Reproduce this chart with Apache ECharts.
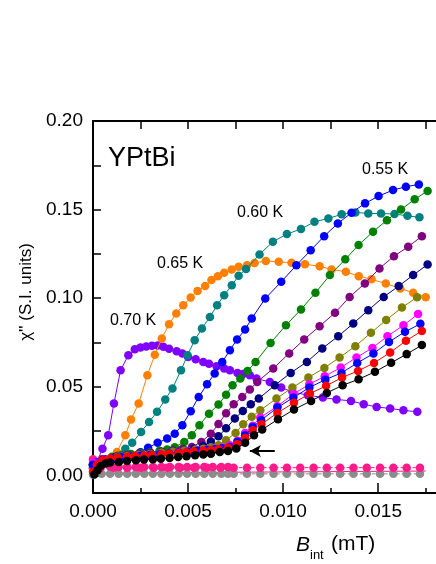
<!DOCTYPE html>
<html>
<head>
<meta charset="utf-8">
<script src="https://cdn.jsdelivr.net/npm/echarts@6/dist/echarts.min.js"></script>
<style>
html,body{margin:0;padding:0;background:#fff;overflow:hidden;width:436px;height:564px;}
#c{width:500px;height:564px;}
</style>
</head>
<body>
<div id="c"></div>
<script>
// ---- data (x in mT, y in S.I. units) ----
const xTicks = [0, 0.005, 0.010, 0.015, 0.020];
const yTicks = [0.00, 0.05, 0.10, 0.15, 0.20];
const yMinorTicks = [0.025, 0.075, 0.125, 0.175];
const tempLabels = ['0.55 K', '0.60 K', '0.65 K', '0.70 K'];

const s070 = [[0,0.004],[0.0002,0.0075],[0.0005,0.015],[0.0008,0.0226],[0.0011,0.0405],[0.00145,0.0593],[0.00186,0.0678],[0.0022,0.0712],[0.0025,0.0721],[0.0028,0.0727],[0.0031,0.0731],[0.0034,0.0733],[0.0037,0.0726],[0.004,0.0714],[0.0044,0.070],[0.0047,0.0687],[0.005,0.0668],[0.0054,0.0655],[0.0058,0.064],[0.0061,0.063],[0.0065,0.0616],[0.0069,0.0603],[0.0072,0.0593],[0.0076,0.0578],[0.0079,0.0572],[0.00825,0.0565],[0.0086,0.0546],[0.0093,0.0527],[0.0099,0.0495],[0.01049,0.0471],[0.0113,0.0452],[0.01209,0.0439],[0.01281,0.0428],[0.01357,0.042],[0.01424,0.0401],[0.01492,0.0386],[0.01563,0.0377],[0.01633,0.0367],[0.01706,0.0358]];

const s065 = [[0,0.004],[0.0004,0.006],[0.0008,0.0085],[0.00126,0.0132],[0.0017,0.0226],[0.002,0.0315],[0.0024,0.0405],[0.00286,0.0565],[0.00325,0.068],[0.00362,0.0772],[0.004,0.0853],[0.00438,0.0913],[0.00475,0.096],[0.00514,0.1004],[0.0055,0.1041],[0.0059,0.1068],[0.00623,0.1102],[0.00657,0.1124],[0.0069,0.1143],[0.0073,0.1162],[0.00766,0.1177],[0.0081,0.1186],[0.0085,0.1198],[0.00909,0.121],[0.00977,0.1205],[0.01044,0.12],[0.01115,0.1192],[0.01192,0.118],[0.01255,0.1162],[0.0133,0.1149],[0.01398,0.1124],[0.01465,0.1106],[0.0154,0.1083],[0.01616,0.1055],[0.01684,0.103],[0.0175,0.1005]];

const s060 = [[0,0.005],[0.0004,0.007],[0.0008,0.008],[0.0013,0.011],[0.0017,0.015],[0.00206,0.0183],[0.00253,0.0245],[0.00295,0.0301],[0.00337,0.0358],[0.0038,0.0428],[0.00418,0.049],[0.00463,0.0593],[0.00497,0.0678],[0.00535,0.0763],[0.00573,0.0829],[0.00615,0.0894],[0.00653,0.096],[0.0069,0.1017],[0.0073,0.1073],[0.00766,0.1126],[0.00805,0.1164],[0.00876,0.1247],[0.00946,0.1318],[0.0102,0.1362],[0.01094,0.139],[0.01165,0.1431],[0.01238,0.145],[0.01308,0.1473],[0.0138,0.1484],[0.01448,0.1478],[0.01515,0.1478],[0.01586,0.1475],[0.01654,0.1465],[0.01717,0.1456]];

const s055 = [[0,0.006],[0.0004,0.007],[0.0008,0.008],[0.0012,0.009],[0.0016,0.010],[0.002,0.011],[0.0025,0.013],[0.0029,0.0156],[0.0034,0.0183],[0.0039,0.0207],[0.0043,0.0235],[0.0047,0.0283],[0.00514,0.0362],[0.00556,0.0442],[0.006,0.0514],[0.0064,0.0575],[0.0068,0.064],[0.0072,0.0706],[0.00758,0.0767],[0.008,0.0823],[0.00835,0.0885],[0.00906,0.0998],[0.0099,0.1092],[0.0107,0.1186],[0.01145,0.127],[0.01216,0.135],[0.01288,0.1422],[0.0136,0.1482],[0.01431,0.1535],[0.01502,0.1576],[0.01578,0.161],[0.01646,0.1629],[0.01714,0.1642]];

const sGreen = [[0,0.006],[0.0005,0.009],[0.001,0.0105],[0.0015,0.0115],[0.002,0.012],[0.0025,0.0125],[0.003,0.013],[0.0035,0.0138],[0.0039,0.0145],[0.0043,0.0158],[0.0048,0.0188],[0.0052,0.0226],[0.0056,0.0283],[0.0061,0.0348],[0.0066,0.040],[0.0070,0.0455],[0.00734,0.0508],[0.00775,0.0546],[0.00813,0.0589],[0.00855,0.064],[0.00934,0.0747],[0.01015,0.0847],[0.01094,0.0936],[0.0117,0.103],[0.01246,0.113],[0.01327,0.1219],[0.01397,0.13],[0.01473,0.1375],[0.01546,0.144],[0.0162,0.150],[0.01692,0.1558],[0.0176,0.1605]];

const sPurple = [[0,0.006],[0.0006,0.009],[0.0012,0.0105],[0.0018,0.0115],[0.0024,0.012],[0.003,0.0127],[0.0036,0.0133],[0.0042,0.014],[0.0047,0.0148],[0.0052,0.016],[0.0057,0.0188],[0.0062,0.0235],[0.0066,0.029],[0.0070,0.035],[0.0074,0.0401],[0.00785,0.0442],[0.00825,0.0484],[0.00864,0.0527],[0.00948,0.0603],[0.01032,0.0688],[0.01111,0.0767],[0.01192,0.0842],[0.01273,0.0917],[0.0135,0.1007],[0.0143,0.1083],[0.01507,0.1168],[0.01583,0.1237],[0.01658,0.129],[0.0173,0.135]];

const sNavy = [[0,0.006],[0.0006,0.009],[0.0012,0.0103],[0.0018,0.0112],[0.0024,0.0118],[0.003,0.0124],[0.0036,0.013],[0.0042,0.0137],[0.0048,0.0143],[0.0053,0.015],[0.0058,0.0165],[0.0062,0.019],[0.0066,0.022],[0.0070,0.0265],[0.00746,0.032],[0.00788,0.0363],[0.0083,0.0401],[0.00872,0.0433],[0.00956,0.0508],[0.0104,0.0578],[0.01125,0.064],[0.01206,0.0716],[0.0129,0.0785],[0.01369,0.0857],[0.01448,0.0932],[0.01529,0.1007],[0.01608,0.1068],[0.01684,0.113],[0.0176,0.119]];

const sOlive = [[0,0.006],[0.0006,0.0088],[0.0012,0.010],[0.0018,0.011],[0.0024,0.0116],[0.003,0.0122],[0.0036,0.0128],[0.0042,0.0134],[0.0048,0.014],[0.0054,0.0146],[0.0058,0.015],[0.0062,0.0158],[0.0066,0.017],[0.0070,0.0198],[0.0075,0.0239],[0.0079,0.0288],[0.00835,0.033],[0.0088,0.0367],[0.00965,0.0433],[0.01049,0.0495],[0.01133,0.0552],[0.01217,0.0606],[0.01297,0.0665],[0.0138,0.0729],[0.01462,0.0804],[0.01542,0.0876],[0.01625,0.0947],[0.01705,0.1005]];

const sMagenta = [[0,0.007],[0.0005,0.009],[0.001,0.0098],[0.0015,0.0104],[0.002,0.0108],[0.0025,0.0112],[0.003,0.0116],[0.0035,0.012],[0.004,0.0125],[0.0045,0.013],[0.005,0.0135],[0.0055,0.014],[0.006,0.0145],[0.0064,0.015],[0.0068,0.0157],[0.0072,0.017],[0.0076,0.0195],[0.008,0.0239],[0.0084,0.028],[0.0088,0.0326],[0.0097,0.039],[0.01054,0.0458],[0.01138,0.0514],[0.01219,0.0559],[0.01303,0.0608],[0.01386,0.0665],[0.0147,0.0719],[0.01549,0.0785],[0.01633,0.0847],[0.0171,0.091]];

const sBlue2 = [[0,0.006],[0.0005,0.0088],[0.001,0.0096],[0.0015,0.0102],[0.002,0.0106],[0.0025,0.011],[0.003,0.0114],[0.0035,0.0118],[0.004,0.0123],[0.0045,0.0128],[0.005,0.0133],[0.0055,0.0138],[0.006,0.0143],[0.0064,0.0147],[0.0068,0.0152],[0.0072,0.016],[0.0076,0.019],[0.008,0.0226],[0.0084,0.0273],[0.00884,0.0311],[0.0097,0.0382],[0.01054,0.0439],[0.01138,0.0495],[0.01222,0.054],[0.01307,0.0578],[0.0139,0.0634],[0.01475,0.0687],[0.01557,0.0753],[0.01641,0.081],[0.01722,0.0855]];

const sRed = [[0,0.002],[0.0002,0.006],[0.0005,0.0085],[0.0009,0.0095],[0.0013,0.010],[0.0018,0.0105],[0.0022,0.011],[0.0027,0.0112],[0.0031,0.0113],[0.0036,0.0118],[0.004,0.0122],[0.0045,0.0126],[0.0049,0.013],[0.0053,0.0134],[0.0058,0.0138],[0.0062,0.0142],[0.0066,0.0147],[0.0071,0.0155],[0.00758,0.0175],[0.008,0.0211],[0.0084,0.0254],[0.00886,0.0288],[0.0097,0.0352],[0.01057,0.041],[0.01141,0.0461],[0.01226,0.0505],[0.0131,0.0552],[0.01394,0.0589],[0.01478,0.0634],[0.01563,0.0693],[0.01646,0.0759],[0.0173,0.0815]];

const sBlack = [[0.00007,0.0005],[0.00024,0.0028],[0.0004,0.0053],[0.00066,0.0066],[0.0009,0.0072],[0.00136,0.0075],[0.00179,0.0081],[0.00226,0.0085],[0.00268,0.0089],[0.00315,0.009],[0.00357,0.0094],[0.00403,0.0098],[0.00448,0.0103],[0.00492,0.0107],[0.00537,0.0113],[0.0058,0.0117],[0.0062,0.0122],[0.00667,0.0132],[0.0071,0.0137],[0.00754,0.0151],[0.008,0.0183],[0.00847,0.0226],[0.0089,0.0258],[0.00973,0.0316],[0.01057,0.0371],[0.01147,0.042],[0.0123,0.0465],[0.01313,0.0508],[0.01397,0.0542],[0.01483,0.0584],[0.01568,0.0635],[0.0165,0.0684],[0.0173,0.0735]];

const sPinkDense = [[0,0.009],[0.00045,0.006],[0.0009,0.005],[0.00135,0.0047],[0.0018,0.0047],[0.00225,0.0047],[0.0027,0.0047],[0.00315,0.0047],[0.0036,0.0047],[0.00405,0.0047],[0.0045,0.0047],[0.00495,0.0047],[0.0054,0.0047],[0.00585,0.0047],[0.0063,0.0047],[0.00675,0.0047],[0.0071,0.0047]];
const sPinkSparse = [[0.0004,0.0043],[0.0011,0.0043],[0.0018,0.0043],[0.0025,0.0043],[0.0032,0.0043],[0.0039,0.0043],[0.0046,0.0043],[0.0053,0.0043],[0.006,0.0043],[0.0067,0.0043],[0.0074,0.0043],[0.0081,0.0043],[0.0088,0.0043],[0.0095,0.0043],[0.0102,0.0043],[0.0109,0.0043],[0.0116,0.0043],[0.0123,0.0043],[0.013,0.0043],[0.0137,0.0043],[0.0144,0.0043],[0.0151,0.0043],[0.0158,0.0043],[0.0165,0.0043],[0.0172,0.0043]];
const sGrayDense = [[0,0.0003],[0.00045,0.0008],[0.0009,0.0009],[0.00135,0.0009],[0.0018,0.0009],[0.00225,0.0009],[0.0027,0.0009],[0.00315,0.0009],[0.0036,0.0009],[0.00405,0.0009],[0.0045,0.0009],[0.00495,0.0009],[0.0054,0.0009],[0.00585,0.0009],[0.0063,0.0009],[0.00675,0.0009],[0.0071,0.0009]];
const sGraySparse = [[0.0074,0.0008],[0.0081,0.0008],[0.0088,0.0008],[0.0095,0.0008],[0.0102,0.0008],[0.0109,0.0008],[0.0116,0.0008],[0.0123,0.0008],[0.013,0.0008],[0.0137,0.0008],[0.0144,0.0008],[0.0151,0.0008],[0.0158,0.0008],[0.0165,0.0008],[0.0172,0.0008]];
const sPinkLine = [[0,-0.0005],[0.0005,0.0012],[0.007,0.0017],[0.0175,0.0024]];

const arrowFrom = [0.00956, 0.0137];
const arrowTo = [0.00825, 0.0137];

// ---- chart ----
const FONT = 'Liberation Sans, Arial, Helvetica, sans-serif';
function dots(data, color, z, opts) {
  return Object.assign({
    type: 'line', data: data, symbol: 'circle', symbolSize: 8.5,
    itemStyle: {color: color}, lineStyle: {color: color, width: 1},
    z: z, clip: false, animation: false, silent: true
  }, opts || {});
}

const series = [
  {type: 'line', data: sPinkLine, symbol: 'none', lineStyle: {color: '#ff1a8c', width: 1}, z: 2, animation: false, silent: true},
  dots(sGrayDense, '#8c8c8c', 3),
  dots(sGraySparse, '#8c8c8c', 3, {lineStyle: {color: '#8c8c8c', width: 1, type: 'dashed'}}),
  dots(sPinkDense, '#ff1a8c', 4),
  dots(sPinkSparse, '#ff1a8c', 4, {lineStyle: {color: '#ff1a8c', width: 1, type: 'dashed'}}),
  dots(s070, '#8000ff', 5),
  dots(s065, '#ff8000', 6),
  dots(s060, '#008080', 7),
  dots(s055, '#0000ff', 8),
  dots(sGreen, '#008000', 9),
  dots(sPurple, '#800080', 10),
  dots(sNavy, '#000080', 11),
  dots(sOlive, '#808000', 12),
  dots(sMagenta, '#ff00ff', 13),
  dots(sBlue2, '#0000ff', 14),
  dots(sRed, '#ff0000', 15),
  dots(sBlack, '#000000', 16, {
    markLine: {
      silent: true, animation: false, symbol: ['none', 'arrow'], symbolSize: [9, 11],
      label: {show: false},
      lineStyle: {color: '#000', width: 2, type: 'solid'},
      data: [[{coord: arrowFrom}, {coord: arrowTo}]]
    }
  })
];

const chart = echarts.init(document.getElementById('c'), null, {renderer: 'canvas'});
chart.setOption({
  backgroundColor: '#fff',
  animation: false,
  grid: {left: 93, right: 11, top: 121, bottom: 71, containLabel: false},
  xAxis: [{
    type: 'value', min: xTicks[0], max: xTicks[xTicks.length - 1], interval: 0.005,
    position: 'bottom',
    axisLine: {show: true, onZero: false, lineStyle: {color: '#000', width: 2}},
    axisTick: {show: true, inside: true, length: 10, lineStyle: {color: '#000', width: 1.5}},
    minorTick: {show: true, splitNumber: 2, length: 5, lineStyle: {color: '#000', width: 1.5}},
    axisLabel: {color: '#000', fontSize: 19, fontFamily: FONT, margin: 9, formatter: v => v.toFixed(3)},
    splitLine: {show: false}
  }, {
    type: 'value', min: xTicks[0], max: xTicks[xTicks.length - 1], interval: 0.005,
    position: 'top',
    axisLine: {show: true, onZero: false, lineStyle: {color: '#000', width: 2}},
    axisTick: {show: true, inside: true, length: 8, lineStyle: {color: '#000', width: 1.5}},
    minorTick: {show: true, splitNumber: 2, length: 8, lineStyle: {color: '#000', width: 1.5}},
    axisLabel: {show: false},
    splitLine: {show: false}
  }],
  yAxis: [{
    type: 'value', min: -0.01, max: 0.20,
    axisLine: {show: true, onZero: false, lineStyle: {color: '#000', width: 2}},
    axisTick: {show: true, inside: true, length: 8, lineStyle: {color: '#000', width: 1.5},
      customValues: yTicks.concat(yMinorTicks)},
    axisLabel: {color: '#000', fontSize: 19, fontFamily: FONT, margin: 10,
      customValues: yTicks, formatter: v => v.toFixed(2)},
    splitLine: {show: false}
  }],
  series: series,
  graphic: [
    {type: 'text', left: 108, top: 145, silent: true,
     style: {text: 'YPtBi', font: '27px ' + FONT, fill: '#000'}},
    {type: 'text', left: 362, top: 162, silent: true,
     style: {text: tempLabels[0], font: '16px ' + FONT, fill: '#000'}},
    {type: 'text', left: 237, top: 205, silent: true,
     style: {text: tempLabels[1], font: '16px ' + FONT, fill: '#000'}},
    {type: 'text', left: 157, top: 256, silent: true,
     style: {text: tempLabels[2], font: '16px ' + FONT, fill: '#000'}},
    {type: 'text', left: 110, top: 313, silent: true,
     style: {text: tempLabels[3], font: '16px ' + FONT, fill: '#000'}},
    {type: 'text', x: 26, y: 292, rotation: Math.PI / 2, silent: true,
     style: {text: "\u03c7'' (S.I. units)", font: '17px ' + FONT, fill: '#000', textAlign: 'center', textVerticalAlign: 'middle'}},
    {type: 'text', x: 296, y: 545, silent: true,
     style: {text: 'B', font: 'italic 21px ' + FONT, fill: '#000', textVerticalAlign: 'middle'}},
    {type: 'text', x: 310, y: 555, silent: true,
     style: {text: 'int', font: '13px ' + FONT, fill: '#000', textVerticalAlign: 'middle'}},
    {type: 'text', x: 331, y: 544, silent: true,
     style: {text: '(mT)', font: '21px ' + FONT, fill: '#000', textVerticalAlign: 'middle'}}
  ]
});
</script>
</body>
</html>
